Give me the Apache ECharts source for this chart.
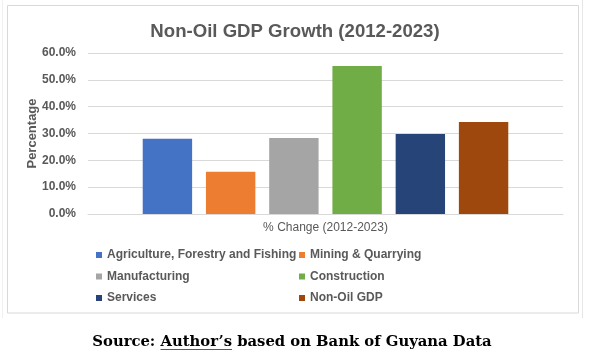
<!DOCTYPE html>
<html>
<head>
<meta charset="utf-8">
<script src="https://cdn.jsdelivr.net/npm/echarts@6/dist/echarts.min.js"></script>
<style>
html,body{margin:0;padding:0;background:#fff;}
#c{width:590px;height:358px;}
</style>
</head>
<body>
<div id="c"></div>
<script>
const titleText = 'Non-Oil GDP Growth (2012-2023)';
const categories = ['% Change (2012-2023)'];
const seriesNames = ['Agriculture, Forestry and Fishing', 'Mining & Quarrying', 'Manufacturing', 'Construction', 'Services', 'Non-Oil GDP'];
const seriesValues = [28.0, 15.7, 28.3, 55.2, 29.8, 34.3];
const seriesColors = ['#4472C4', '#ED7D31', '#A5A5A5', '#70AD47', '#264478', '#9E480E'];
const legendCol1 = ['Agriculture, Forestry and Fishing', 'Manufacturing', 'Services'];
const legendCol2 = ['Mining & Quarrying', 'Construction', 'Non-Oil GDP'];
const yAxisName = 'Percentage';
const sourcePre = 'Source: ';
const sourceMid = 'Author’s';
const sourcePost = ' based on Bank of Guyana Data';

const chart = echarts.init(document.getElementById('c'), null, {renderer: 'canvas'});

const srcFont = 'bold 14.8px "DejaVu Serif"';
const cv = document.createElement('canvas').getContext('2d');
cv.font = srcFont;
const wPre = cv.measureText(sourcePre).width;
const wMid = cv.measureText(sourceMid).width;
const wPost = cv.measureText(sourcePost).width;
const wAll = wPre + wMid + wPost;
const srcCenter = 292;
const srcX0 = srcCenter - wAll / 2;
const srcY = 342;

const txt = '#595959';
const series = seriesNames.map((n, i) => ({
  name: n,
  type: 'bar',
  data: [seriesValues[i]],
  barWidth: 49.4,
  barGap: '28%',
  itemStyle: {color: seriesColors[i]},
  emphasis: {disabled: true}
}));

const legendBase = {
  orient: 'vertical',
  top: 244,
  itemWidth: 6,
  itemHeight: 6,
  itemGap: 9.5,
  icon: 'rect',
  selectedMode: false,
  textStyle: {color: txt, fontSize: 12, fontWeight: 'bold', fontFamily: 'Liberation Sans, Arial, sans-serif'}
};

chart.setOption({
  animation: false,
  backgroundColor: '#fff',
  title: {
    text: titleText,
    left: 'center',
    top: 17,
    textStyle: {color: txt, fontSize: 18.6, fontWeight: 'bold', fontFamily: 'Liberation Sans, Arial, sans-serif'}
  },
  grid: {left: 88, right: 27, top: 53, bottom: 144, containLabel: false},
  legend: [
    Object.assign({}, legendBase, {left: 91, data: legendCol1}),
    Object.assign({}, legendBase, {left: 294, data: legendCol2})
  ],
  xAxis: {
    type: 'category',
    data: categories,
    axisLine: {show: true, lineStyle: {color: '#d9d9d9', width: 1}},
    axisTick: {show: false},
    axisLabel: {color: txt, fontSize: 12, margin: 8, fontFamily: 'Liberation Sans, Arial, sans-serif'}
  },
  yAxis: {
    type: 'value',
    min: 0,
    max: 60,
    interval: 10,
    name: yAxisName,
    nameLocation: 'middle',
    nameRotate: 90,
    nameGap: 49,
    nameMoveOverlap: false,
    nameTextStyle: {color: txt, fontSize: 13, fontWeight: 'bold', fontFamily: 'Liberation Sans, Arial, sans-serif'},
    axisLine: {show: false},
    axisTick: {show: false},
    splitLine: {lineStyle: {color: '#d9d9d9', width: 1}},
    axisLabel: {
      color: txt, fontSize: 12, fontWeight: 'bold', margin: 12,
      fontFamily: 'Liberation Sans, Arial, sans-serif',
      formatter: v => v.toFixed(1) + '%'
    }
  },
  series: series,
  graphic: [
    {type: 'rect', z: -1, silent: true, shape: {x: 7.5, y: 5.5, width: 571, height: 307.5}, style: {fill: 'none', stroke: '#d9d9d9', lineWidth: 1}},
    {type: 'line', silent: true, shape: {x1: 582.5, y1: 0, x2: 582.5, y2: 318}, style: {stroke: '#e6e6e6', lineWidth: 1}},
    {type: 'line', silent: true, shape: {x1: 2.5, y1: 0, x2: 2.5, y2: 318}, style: {stroke: '#f0f0f0', lineWidth: 1}},
    {type: 'text', silent: true, x: srcX0, y: srcY, style: {text: sourcePre + sourceMid + sourcePost, font: srcFont, fill: '#000', textVerticalAlign: 'middle', textAlign: 'left'}},
    {type: 'line', silent: true, shape: {x1: srcX0 + wPre, y1: srcY + 7.5, x2: srcX0 + wPre + wMid, y2: srcY + 7.5}, style: {stroke: '#2e6b73', lineWidth: 1.2}}
  ]
});
</script>
</body>
</html>
